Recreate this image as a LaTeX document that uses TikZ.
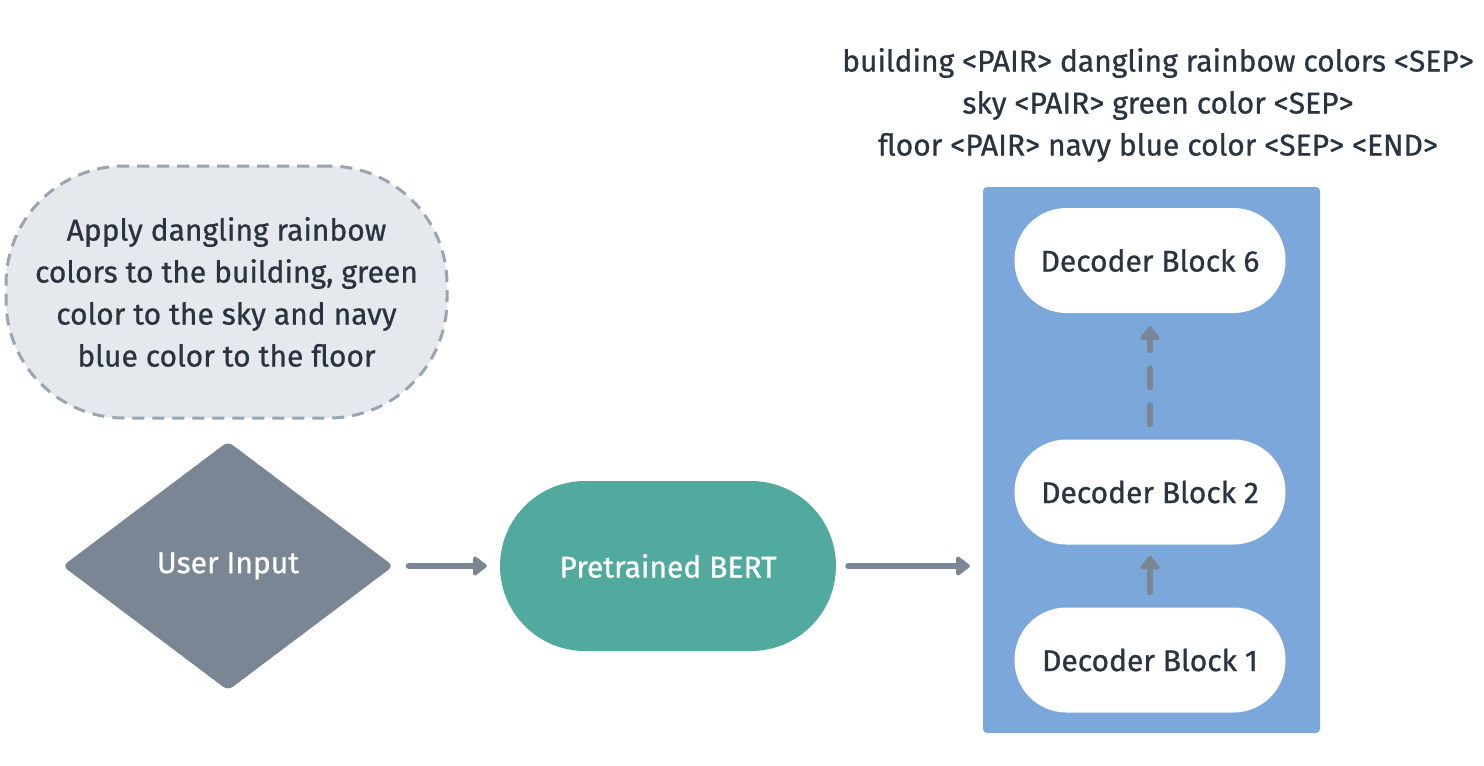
\documentclass[tikz,border=0pt]{standalone}
\usepackage{fontspec}
\setmainfont{Fira Sans}[FakeBold=0.8]
\usetikzlibrary{shapes.geometric,arrows.meta}
\definecolor{txt}{HTML}{2A3440}
\definecolor{grayfill}{HTML}{7B8694}
\definecolor{cloudfill}{HTML}{E5E8EC}
\definecolor{cloudline}{HTML}{9AA5B1}
\definecolor{bertfill}{HTML}{52AA9F}
\definecolor{bluefill}{HTML}{7BA7DA}
\tikzset{
  every node/.style={font=\fontsize{30}{42}\selectfont, text=txt},
  cloudbox/.style={draw=cloudline, fill=cloudfill, line width=3, dash pattern=on 12 off 8,
    rounded corners=118, minimum width=441, minimum height=252, align=center, inner sep=0},
  decision/.style={diamond, fill=grayfill, rounded corners=6, minimum width=331, minimum height=249,
    aspect=1.33, inner sep=0, text=white},
  bertbox/.style={fill=bertfill, rounded corners=85, minimum width=336, minimum height=170, text=white, inner sep=0},
  panel/.style={fill=bluefill, rounded corners=4, minimum width=337, minimum height=546, inner sep=0},
  decbox/.style={fill=white, rounded corners=52, minimum width=271, minimum height=105, inner sep=0},
  conn/.style={draw=grayfill, line width=6, line cap=round, -{Triangle[width=22,length=15,round]}},
}
\begin{document}
\begin{tikzpicture}[x=1pt,y=-1pt]
\useasboundingbox (0,0) rectangle (1484,766);
\node[cloudbox] (cloud) at (226.5,292) {Apply dangling rainbow\\colors to the building, green\\color to the sky and navy\\blue color to the floor};
\node[decision] (ui) at (228,566) {User Input};
\node[bertbox] (bert) at (668,566) {Pretrained BERT};
\node[panel] (dec) at (1151.5,460) {};
\node[decbox] (d6) at (1150,260.5) {Decoder Block 6};
\node[decbox] (d2) at (1150,492) {Decoder Block 2};
\node[decbox] (d1) at (1150,660) {Decoder Block 1};
\node[align=center] (out) at (1158,105) {building <PAIR> dangling rainbow colors <SEP>\\sky <PAIR> green color <SEP>\\floor <PAIR> navy blue color <SEP> <END>};
\draw[conn, shorten <=15, shorten >=13] (ui.east) -- (bert.west);
\draw[conn, shorten <=12, shorten >=13] (bert.east) -- (dec.west |- bert.east);
\draw[conn, shorten <=15, shorten >=11] (d1.north) -- (d2.south);
\draw[conn, dash pattern=on 19 off 18, shorten <=15, shorten >=13] (d2.north) -- (d6.south);
\end{tikzpicture}
\end{document}
